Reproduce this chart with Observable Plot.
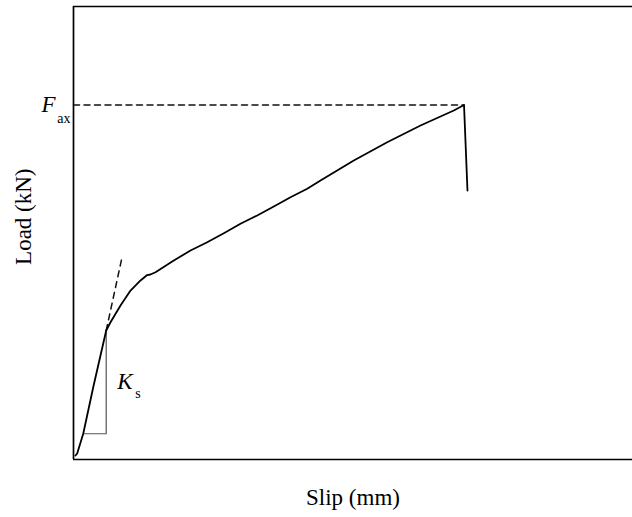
<!DOCTYPE html>
<html>
<head>
<meta charset="utf-8">
<script src="https://cdn.jsdelivr.net/npm/d3@7"></script>
<script src="https://cdn.jsdelivr.net/npm/@observablehq/plot@0.6"></script>
<style>
  html, body { margin: 0; padding: 0; background: #fff; }
  #chart svg { display: block; }
</style>
</head>
<body>
<div id="chart"></div>
<script>
// Load–slip curve (arbitrary units)
const slip = [0.036, 0.066, 0.174, 0.352, 0.585, 0.662, 0.841, 1.020, 1.199, 1.318, 1.377, 1.467, 1.794, 2.093, 2.392, 2.689, 2.987, 3.286, 3.583, 3.882, 4.181, 4.419, 5.014, 5.612, 6.208, 6.803, 6.986, 7.048];
const load = [0.44, 0.66, 2.84, 7.95, 14.24, 15.15, 17.0, 18.65, 19.76, 20.36, 20.42, 20.67, 21.96, 23.07, 23.98, 24.98, 26.02, 26.93, 27.92, 28.95, 29.88, 30.79, 33.0, 35.02, 36.87, 38.52, 39.13, 29.69];

// Peak load (F_ax) and its slip
const Fax = 39.13;
const peakSlip = 6.986;

// Tangent of the initial stiffness K_s (dashed extension)
const tangentSlip = [0.585, 0.871];
const tangentLoad = [14.24, 22.4];

// Stiffness triangle
const triSlip = [0.174, 0.585, 0.585];
const triLoad = [2.84, 2.84, 14.24];

// Axes domain and title positions
const slipDomain = [0, 10];
const loadDomain = [0, 50];
const xTitle = "Slip (mm)";
const yTitle = "Load (kN)";
const yTitleAt = 26.8;

const curve = slip.map((s, i) => ({slip: s, load: load[i]}));
const tangent = tangentSlip.map((s, i) => ({slip: s, load: tangentLoad[i]}));
const tri = triSlip.map((s, i) => ({slip: s, load: triLoad[i]}));
const faxLine = [{slip: slipDomain[0], load: Fax}, {slip: peakSlip, load: Fax}];
const ksLabel = [{slip: triSlip[1], load: (triLoad[0] + triLoad[2]) / 2}];

const serif = "Liberation Serif";

const chart = Plot.plot({
  width: 632,
  height: 517,
  marginLeft: 73,
  marginRight: 0,
  marginTop: 6,
  marginBottom: 58,
  style: {background: "#fff", overflow: "visible"},
  x: {domain: slipDomain, axis: null},
  y: {domain: loadDomain, axis: null},
  marks: [
    // frame: left, bottom, top
    Plot.ruleX([slipDomain[0]], {stroke: "#000", strokeWidth: 1.7}),
    Plot.ruleY([loadDomain[0], loadDomain[1]], {stroke: "#000", strokeWidth: 1.7}),
    // F_ax dashed line
    Plot.line(faxLine, {x: "slip", y: "load", stroke: "#111", strokeWidth: 1.5, strokeDasharray: "6,4.5"}),
    // stiffness triangle
    Plot.line(tri, {x: "slip", y: "load", stroke: "#555", strokeWidth: 1.2}),
    // tangent
    Plot.line(tangent, {x: "slip", y: "load", stroke: "#111", strokeWidth: 1.5, strokeDasharray: "6,5"}),
    // curve
    Plot.line(curve, {x: "slip", y: "load", stroke: "#000", strokeWidth: 1.8}),
    // F_ax label
    Plot.text([{slip: slipDomain[0], load: Fax}], {x: "slip", y: "load", text: () => "F", fontFamily: serif, fontStyle: "italic", fontSize: 23, textAnchor: "start", dx: -32, fill: "#000"}),
    Plot.text([{slip: slipDomain[0], load: Fax}], {x: "slip", y: "load", text: () => "ax", fontFamily: serif, fontSize: 14, textAnchor: "end", dx: -3, dy: 14, fill: "#000"}),
    // K_s label
    Plot.text(ksLabel, {x: "slip", y: "load", text: () => "K", fontFamily: serif, fontStyle: "italic", fontSize: 23, textAnchor: "start", dx: 11, dy: -1, fill: "#000"}),
    Plot.text(ksLabel, {x: "slip", y: "load", text: () => "s", fontFamily: serif, fontSize: 14, textAnchor: "start", dx: 29, dy: 11, fill: "#000"}),
    // axis titles
    Plot.text([xTitle], {frameAnchor: "bottom", text: d => d, fontFamily: serif, fontSize: 23, textAnchor: "middle", lineAnchor: "middle", dy: 38, fill: "#000"}),
    Plot.text([yTitle], {frameAnchor: "left", y: () => yTitleAt, text: d => d, fontFamily: serif, fontSize: 23, rotate: -90, textAnchor: "middle", lineAnchor: "middle", dx: -50, fill: "#000"})
  ]
});
document.getElementById("chart").appendChild(chart);
</script>
</body>
</html>
